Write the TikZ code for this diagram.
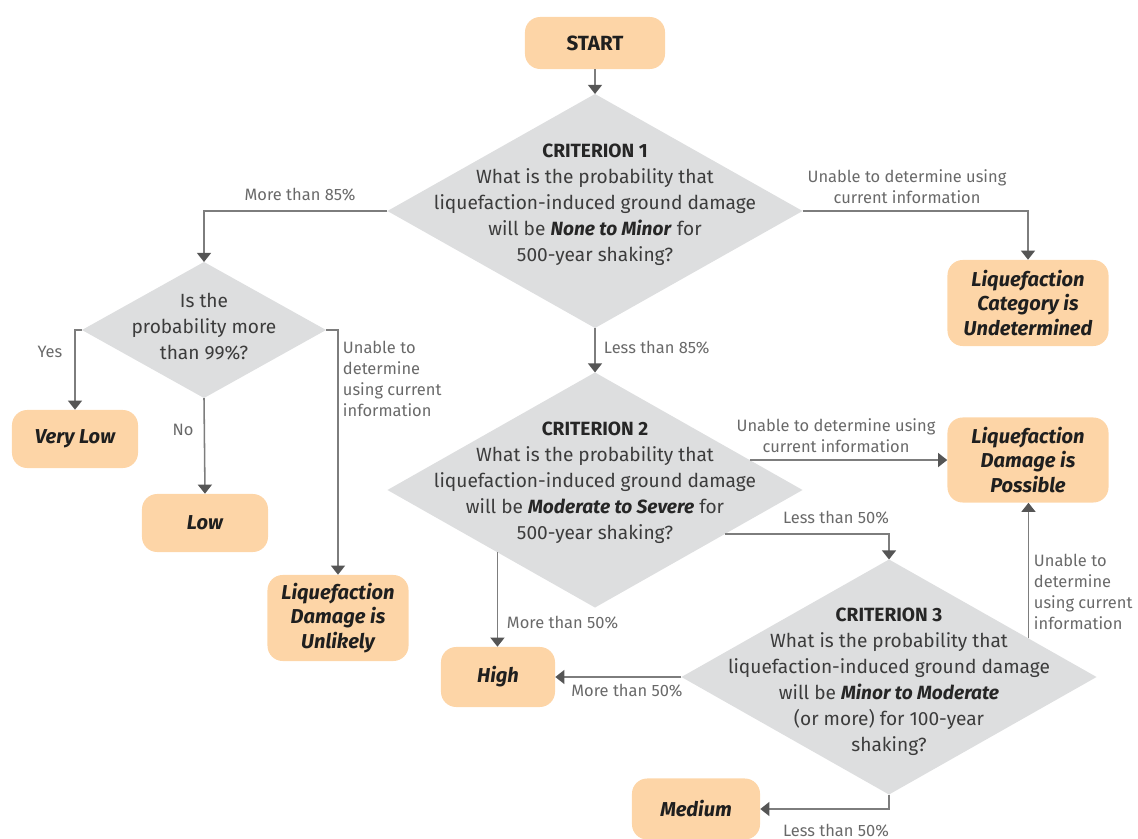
\documentclass[tikz,border=0pt]{standalone}
\usepackage{fontspec}
\setmainfont{Fira Sans}
\usetikzlibrary{shapes.geometric, arrows.meta, calc}
\definecolor{boxfill}{RGB}{253,213,167}
\definecolor{diafill}{RGB}{221,222,223}
\definecolor{linegray}{RGB}{125,125,125}
\definecolor{tipgray}{RGB}{85,85,85}
\definecolor{labgray}{RGB}{105,105,105}
\definecolor{txtgray}{RGB}{60,60,60}

\begin{document}
\begin{tikzpicture}[
    x=0.025cm, y=-0.025cm,
    result/.style={rectangle, rounded corners=0.38cm, fill=boxfill, inner sep=0pt, align=center,
      text=black!88, font=\fontsize{14.3}{17.2}\selectfont\bfseries\itshape},
    decision/.style={diamond, fill=diafill, inner sep=0pt, outer sep=0pt},
    dtext/.style={align=center, text=txtgray, font=\fontsize{13.6}{18.5}\selectfont},
    lab/.style={align=center, text=labgray, font=\fontsize{11.7}{15}\selectfont},
    arr/.style={draw=linegray, line width=1.1pt, -{Triangle[width=10pt, length=6.5pt, color=tipgray]}}
]
  \useasboundingbox (0,0) rectangle (1138,839);

  % --- TOP ---
  \node[result, minimum width=3.5cm, minimum height=1.3cm, font=\fontsize{14.6}{15}\selectfont\bfseries] (start) at (595,43) {START};
  \node[decision, minimum width=10.375cm, minimum height=5.85cm] (c1) at (595,211) {};
  \node[dtext] (c1t) at (595,205) {{\color{black!85}\textbf{CRITERION 1}}\\What is the probability that\\liquefaction-induced ground damage\\will be {\color{black!85}\textbf{\textit{None to Minor}}} for\\500-year shaking?};
  \node[result, minimum width=4.025cm, minimum height=2.15cm] (undet) at (1028,303) {Liquefaction\\Category is\\Undetermined};

  % --- LEFT SECTION ---
  \node[decision, minimum width=6.1cm, minimum height=3.4cm] (q) at (204,330) {};
  \node[dtext] (qt) at (204,327) {Is the\\probability more\\than 99\%?};
  \node[result, minimum width=3.15cm, minimum height=1.45cm] (vlow) at (75,439) {Very Low};
  \node[result, minimum width=3.15cm, minimum height=1.45cm] (low) at (205,523) {Low};
  \node[result, minimum width=3.525cm, minimum height=2.15cm] (unlikely) at (338,618) {Liquefaction\\Damage is\\Unlikely};

  % --- CRITERION 2 ---
  \node[decision, minimum width=10.375cm, minimum height=5.875cm] (c2) at (595,490) {};
  \node[dtext] (c2t) at (595,483) {{\color{black!85}\textbf{CRITERION 2}}\\What is the probability that\\liquefaction-induced ground damage\\will be {\color{black!85}\textbf{\textit{Moderate to Severe}}} for\\500-year shaking?};
  \node[result, minimum width=4.025cm, minimum height=2.125cm] (possible) at (1028,460) {Liquefaction\\Damage is\\Possible};
  \node[result, minimum width=2.85cm, minimum height=1.5cm] (high) at (498,677) {High};

  % --- CRITERION 3 ---
  \node[decision, minimum width=10.375cm, minimum height=5.875cm] (c3) at (889,677) {};
  \node[dtext] (c3t) at (889,682) {{\color{black!85}\textbf{CRITERION 3}}\\What is the probability that\\liquefaction-induced ground damage\\will be {\color{black!85}\textbf{\textit{Minor to Moderate}}}\\(or more) for 100-year\\shaking?};
  \node[result, minimum width=3.2cm, minimum height=1.525cm] (medium) at (696,809) {Medium};

  % --- POINTS ON DIAMOND EDGES ---
  \coordinate (c2ne) at ($(c2.east)!0.255!(c2.north)$);
  \coordinate (c2se) at ($(c2.east)!0.374!(c2.south)$);
  \coordinate (c2sw) at ($(c2.west)!0.53!(c2.south)$);
  \coordinate (c3ne) at ($(c3.east)!0.328!(c3.north)$);

  % --- DRAWING EDGES ---
  \draw[arr] (start) -- (c1);
  \draw[arr] (c1.west) -| (q.north);
  \draw[arr] (c1.east) -| (undet.north);
  \draw[arr] (c1.south) -- (c2.north);
  \draw[arr] (q.west) -| (vlow.north);
  \draw[arr] (q.south) -- (low.north);
  \draw[arr] (q.east) -| (unlikely.north);
  \draw[arr] (c2ne) -- (c2ne -| possible.west);
  \draw[arr] (c2se) -| (c3.north);
  \draw[arr] (c2sw) -- (c2sw |- high.north);
  \draw[arr] (c3.west) -- (high.east);
  \draw[arr] (c3ne) -- (c3ne |- possible.south);
  \draw[arr] (c3.south) |- (medium.east);

  % --- EDGE LABELS ---
  \node[lab] (l85a) at (300,195) {More than 85\%};
  \node[lab] (lu1) at (907,187) {Unable to determine using\\current information};
  \node[lab, anchor=west] (l85b) at (599,348) {Less than 85\%};
  \node[lab] (lyes) at (50,352) {Yes};
  \node[lab] (lno) at (183,430) {No};
  \node[lab, anchor=west, align=left] (lu2) at (338,379) {Unable to\\determine\\using current\\information};
  \node[lab] (lu3) at (836,436) {Unable to determine using\\current information};
  \node[lab] (l50a) at (836,518) {Less than 50\%};
  \node[lab, anchor=west] (l50b) at (502,623) {More than 50\%};
  \node[lab] (l50c) at (627,691) {More than 50\%};
  \node[lab, anchor=west, align=left] (lu4) at (1029,592) {Unable to\\determine\\using current\\information};
  \node[lab] (l50d) at (836,831) {Less than 50\%};
\end{tikzpicture}
\end{document}
